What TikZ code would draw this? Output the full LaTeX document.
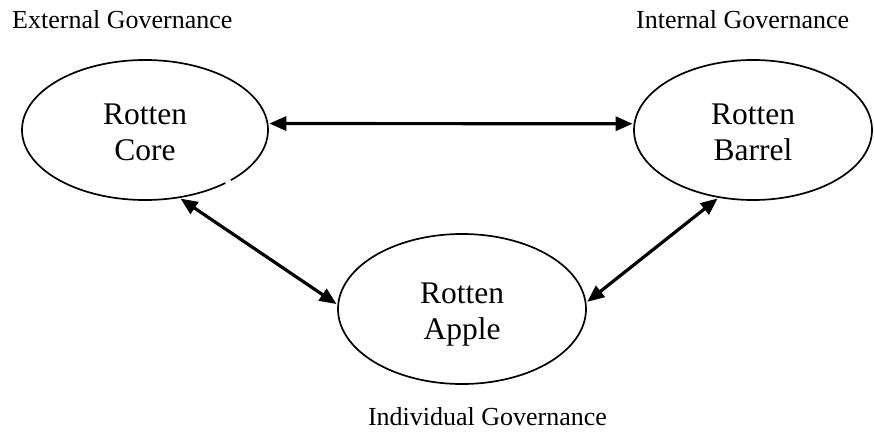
\documentclass[tikz,border=0pt]{standalone}
\usepackage{fontspec}
\setmainfont{Liberation Serif}
\usetikzlibrary{shapes.geometric,arrows.meta}
\newcommand{\ovtext}[2]{\raisebox{-5pt}[\height][\depth]{\begin{tabular}{@{}c@{}}#1\\#2\end{tabular}}}
\begin{document}
\begin{tikzpicture}[x=1pt,y=-1pt,
  oval/.style={ellipse,draw,line width=1.7pt,inner sep=0pt,
    font=\fontsize{31.5}{36}\selectfont},
  govlabel/.style={font=\fontsize{26}{30}\selectfont,inner sep=0pt},
  link/.style={line width=3.2pt,{Triangle[length=17pt,width=14pt]}-{Triangle[length=17pt,width=14pt]},shorten <=1pt,shorten >=1pt}]
\useasboundingbox (0,0) rectangle (874,431);
\node[oval,minimum width=246pt,minimum height=140pt] (core) at (145,130) {\ovtext{Rotten}{Core}};
\node[oval,minimum width=238pt,minimum height=140pt] (barrel) at (753,130) {\ovtext{Rotten}{Barrel}};
\node[oval,minimum width=248pt,minimum height=150pt] (apple) at (462,309) {\ovtext{Rotten}{Apple}};
\node[govlabel,anchor=base west] (ext) at (12,28) {External Governance};
\node[govlabel,anchor=base west] (int) at (636,28) {Internal Governance};
\node[govlabel,anchor=base] (ind) at (487.5,425) {Individual Governance};
\draw[white,line width=2.8pt] (225.5,183.2) -- (231,180.6);
\draw[link] (core.3) -- (barrel.177);
\draw[link] (core.-63) -- (apple.178);
\draw[link] (apple.3) -- (barrel.243);
\end{tikzpicture}
\end{document}
